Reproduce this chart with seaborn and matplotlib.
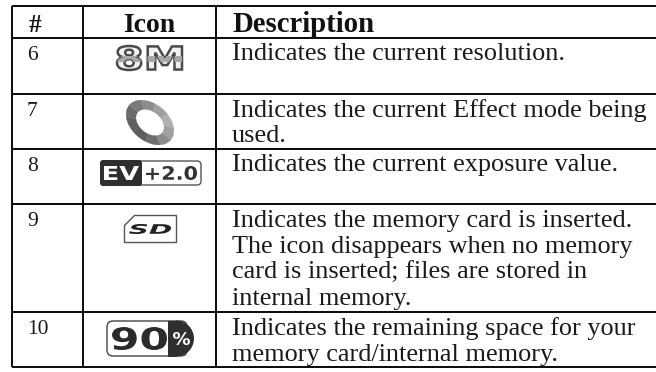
import numpy as np
import matplotlib
matplotlib.use('Agg')
import matplotlib.pyplot as plt
from matplotlib.patches import Rectangle, FancyBboxPatch, Polygon, Wedge, PathPatch
from matplotlib.textpath import TextPath
from matplotlib.font_manager import FontProperties
from matplotlib.transforms import Affine2D
import seaborn as sns

headers = ['#', 'Icon', 'Description']
numbers = ['6', '7', '8', '9', '10']
descriptions = [
    ['Indicates the current resolution.'],
    ['Indicates the current Effect mode being', 'used.'],
    ['Indicates the current exposure value.'],
    ['Indicates the memory card is inserted.', 'The icon disappears when no memory',
     'card is inserted; files are stored in', 'internal memory.'],
    ['Indicates the remaining space for your', 'memory card/internal memory.'],
]
row_lines = [6, 38, 94, 149, 204, 312, 367]
col_lines = [12, 83, 216, 656]

sns.set_theme(style='white')
plt.rcParams['font.family'] = ['Liberation Serif', 'DejaVu Serif']

fig = plt.figure(figsize=(6.56, 3.72), dpi=100)
ax = fig.add_axes([0, 0, 1, 1])
ax.set_xlim(0, 656)
ax.set_ylim(372, 0)
ax.axis('off')


#Fit a string into a pixel box, used for the icon lettering
def fit_text(s, x0, y0, x1, y1, color, edge='none', lw=0, italic=False):
    fp = FontProperties(family='DejaVu Sans', weight='bold', style='oblique' if italic else 'normal')
    tp = TextPath((0, 0), s, size=10, prop=fp)
    b = tp.get_extents()
    tr = (Affine2D().translate(-b.x0, -b.y0)
          .scale((x1 - x0) / b.width, -(y1 - y0) / b.height)
          .translate(x0, y1))
    patch = PathPatch(tr.transform_path(tp), fc=color, ec=edge, lw=lw, zorder=4)
    ax.add_patch(patch)
    return patch


#Grid
for y in row_lines:
    ax.plot([col_lines[0], col_lines[-1]], [y, y], color='black', lw=1.35, solid_capstyle='butt')
for x in col_lines[:-1]:
    ax.plot([x, x], [row_lines[0], row_lines[-1]], color='black', lw=1.35, solid_capstyle='butt')

#Header
ax.text(34.5, 32, headers[0], ha='center', va='baseline', fontsize=18, fontweight='bold', color='#111111')
ax.text(149, 32, headers[1], ha='center', va='baseline', fontsize=20, fontweight='bold', color='#111111')
ax.text(232, 32, headers[2], ha='left', va='baseline', fontsize=20.7, fontweight='bold', color='#111111')

#Body text
for i, (n, lines) in enumerate(zip(numbers, descriptions)):
    top = row_lines[i + 1]
    ax.text(27, top + 22, n, ha='left', va='baseline', fontsize=15.5, color='#1a1a1a')
    for j, line in enumerate(lines):
        ax.text(232, top + 22.5 + j * 26, line, ha='left', va='baseline', fontsize=18.9, color='#1a1a1a')

#Icon 8M, dark outline with a grey band across the letters
p8m = fit_text('8M', 117, 46, 182, 70, '#f0f0f0', edge='#4a4a4a', lw=1.8)
band = Rectangle((115, 56), 70, 6, fc='#a8a8a8', ec='none', zorder=4.5)
ax.add_patch(band)
band.set_clip_path(p8m.get_path(), p8m.get_transform())

#Icon ring, segments get lighter towards the upper right
ring = Affine2D().scale(1, 0.68).rotate_deg(40).translate(150, 122.5) + ax.transData
for k, shade in enumerate(['#8c8c8c', '#6e6e6e', '#5c5c5c', '#606060', '#6a6a6a', '#7a7a7a',
                           '#8c8c8c', '#a0a0a0', '#b0b0b0', '#a0a0a0']):
    ax.add_patch(Wedge((0, 0), 27, k * 36, (k + 1) * 36, width=11, fc=shade, ec=shade,
                       lw=0.3, transform=ring))

#Icon EV +2.0
ax.add_patch(FancyBboxPatch((101, 161), 100, 24, boxstyle='round,pad=0,rounding_size=4',
                            fc='white', ec='#555555', lw=1))
ax.add_patch(FancyBboxPatch((100, 160), 42, 26, boxstyle='round,pad=0,rounding_size=3',
                            fc='#2e2e2e', ec='none'))
fit_text('EV', 104, 166, 139, 180, 'white')
fit_text('+2.0', 146, 166, 197, 180, '#333333')

#Icon SD
ax.add_patch(Polygon([[134, 215], [176, 215], [176, 242], [124, 242], [124, 225]],
                     closed=True, fc='white', ec='#555555', lw=1))
fit_text('SD', 129, 224, 171, 234, '#222222', italic=True)

#Icon 90%
ax.add_patch(FancyBboxPatch((107, 321), 80, 35, boxstyle='round,pad=0,rounding_size=6',
                            fc='white', ec='#444444', lw=1))
ax.add_patch(Wedge((176, 338.5), 18, -90, 90, fc='#2f2f2f', ec='none'))
ax.add_patch(Rectangle((168, 320.5), 8, 36, fc='#2f2f2f', ec='none'))
fit_text('90', 112, 327, 167, 350, '#2a2a2a')
fit_text('%', 173, 332, 190, 345, 'white')

fig.savefig('out.png', dpi=100)
